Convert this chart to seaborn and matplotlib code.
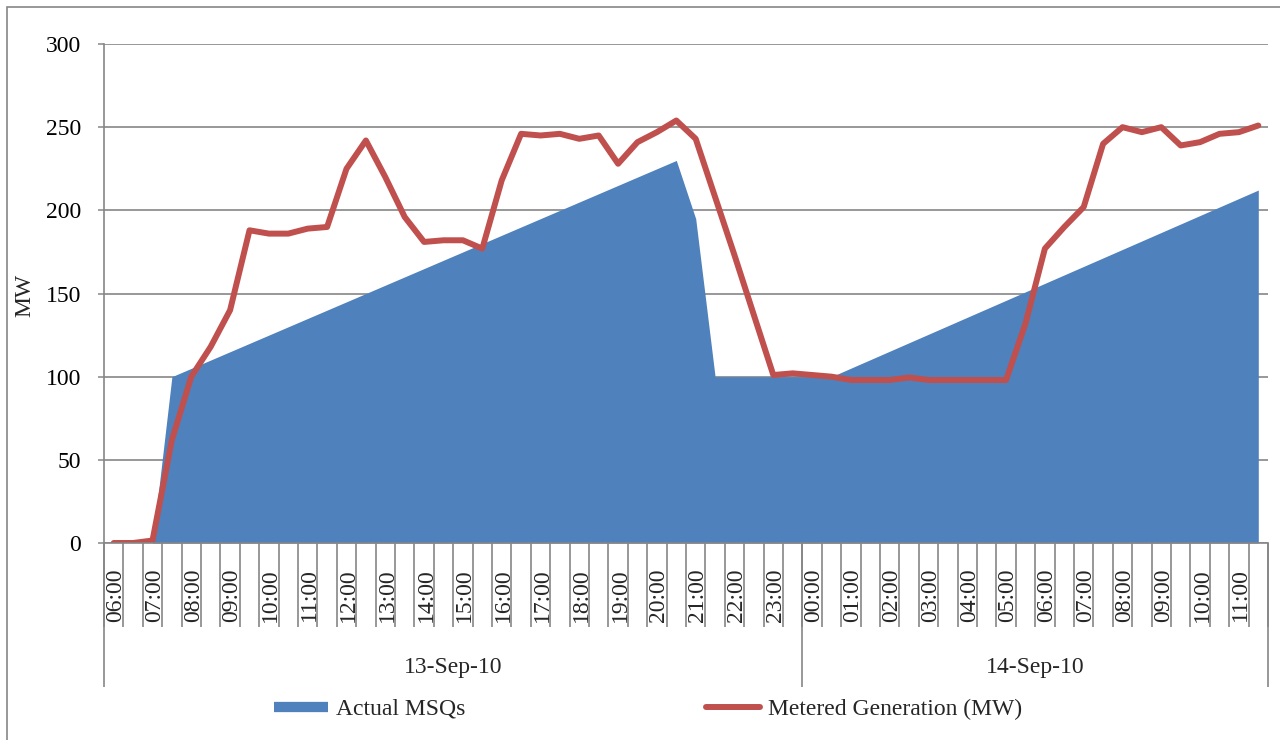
import numpy as np
import pandas as pd
import matplotlib
matplotlib.use("Agg")
import matplotlib.pyplot as plt
from matplotlib.lines import Line2D
from matplotlib.patches import Rectangle
from matplotlib.transforms import ScaledTranslation
import seaborn as sns

# ---------------- data ----------------
times = ["06:00", "06:30", "07:00", "07:30", "08:00", "08:30", "09:00", "09:30",
         "10:00", "10:30", "11:00", "11:30", "12:00", "12:30", "13:00", "13:30",
         "14:00", "14:30", "15:00", "15:30", "16:00", "16:30", "17:00", "17:30",
         "18:00", "18:30", "19:00", "19:30", "20:00", "20:30", "21:00", "21:30",
         "22:00", "22:30", "23:00", "23:30",
         "00:00", "00:30", "01:00", "01:30", "02:00", "02:30", "03:00", "03:30",
         "04:00", "04:30", "05:00", "05:30", "06:00", "06:30", "07:00", "07:30",
         "08:00", "08:30", "09:00", "09:30", "10:00", "10:30", "11:00", "11:30"]
dates = ["13-Sep-10"] * 36 + ["14-Sep-10"] * 24

actual_msqs = [0, 0, 0, 100, 105, 110, 115, 120, 125, 130, 135, 140, 145, 150,
               155, 160, 165, 170, 175, 180, 185, 190, 195, 200, 205, 210, 215,
               220, 225, 230, 195, 100, 100, 100, 100, 100, 100, 100, 105.1, 110.2,
               115.3, 120.4, 125.5, 130.6, 135.7, 140.8, 145.9, 151.0, 156.1, 161.2,
               166.3, 171.4, 176.5, 181.6, 186.7, 191.8, 196.9, 202.0, 207.1, 212.2]

metered_gen = [0, 0, 1.5, 62, 100, 118, 140, 188, 186, 186, 189, 190, 225, 242,
               220, 196, 181, 182, 182, 177, 218, 246, 245, 246, 243, 245, 228,
               241, 247, 254, 243, 208, 173, 137, 101, 102, 101, 100, 98, 98,
               98, 99.5, 98, 98, 98, 98, 98, 132, 177, 190, 202, 240, 250, 247,
               250, 239, 241, 246, 247, 251]

y_ticks = [0, 50, 100, 150, 200, 250, 300]
series_names = ["Actual MSQs", "Metered Generation (MW)"]

df = pd.DataFrame({"idx": np.arange(len(times)), "time": times, "date": dates,
                   "msq": actual_msqs, "gen": metered_gen})

# ---------------- style ----------------
sns.set_style("white")
plt.rcParams["font.family"] = ["Liberation Serif", "DejaVu Serif"]
FS = 17
GRAY = "#868686"
BLUE = "#4F81BD"
RED = "#C0504D"

W, H = 1280, 740
fig = plt.figure(figsize=(12.8, 7.4), dpi=100)
L, R, T, B = 104, 1268, 44, 543
ax = fig.add_axes([L / W, 1 - B / H, (R - L) / W, (B - T) / H])

# area
ax.fill_between(df["idx"], df["msq"], 0, color=BLUE, linewidth=0, zorder=1)
# line
sns.lineplot(data=df, x="idx", y="gen", ax=ax, color=RED, linewidth=4.3,
             solid_joinstyle="round", solid_capstyle="round", zorder=3,
             legend=False)

ax.set_xlim(-0.5, len(times) - 0.5)
ax.set_ylim(0, 300)
ax.set_yticks(y_ticks)
ax.set_yticklabels([str(v) for v in y_ticks], fontsize=FS, color="black")
ax.set_axisbelow(True)
ax.yaxis.grid(True, color=GRAY, linewidth=1.2)
ax.xaxis.grid(False)

for s in ["top", "right"]:
    ax.spines[s].set_visible(False)
for s in ["left", "bottom"]:
    ax.spines[s].set_color(GRAY)
    ax.spines[s].set_linewidth(1.2)
    ax.spines[s].set_zorder(4)

ax.tick_params(axis="y", which="both", left=True, length=4.3, width=1.1,
               color=GRAY, pad=12)

# x tick labels: hourly labels
hour_idx = [i for i, t in enumerate(times) if t.endswith(":00")]
ax.set_xticks(hour_idx)
ax.set_xticklabels([times[i] for i in hour_idx], rotation=90, fontsize=FS,
                   va="top", ha="center")
ax.tick_params(axis="x", length=0, pad=18)
for lab in ax.get_xticklabels():
    lab.set_transform(lab.get_transform() + ScaledTranslation(2 / 100, 0, fig.dpi_scale_trans))

ax.set_xlabel("")
ax.set_ylabel("")

xt = ax.get_xaxis_transform()
row1 = -(627 - B) / (B - T)
row2 = -(687 - B) / (B - T)
bounds = np.arange(len(times) + 1) - 0.5
ax.vlines(bounds, row1, 0, transform=xt, colors=GRAY, linewidth=1.2, clip_on=False)
date_bounds = [-0.5, dates.index("14-Sep-10") - 0.5, len(times) - 0.5]
ax.vlines(date_bounds, row2, 0, transform=xt, colors=GRAY, linewidth=1.2, clip_on=False)

for d in ["13-Sep-10", "14-Sep-10"]:
    ii = [i for i, x in enumerate(dates) if x == d]
    cx = (ii[0] + ii[-1]) / 2
    ax.text(cx, -(667 - B) / (B - T), d, transform=xt, ha="center", va="center",
            fontsize=FS)

fig.text(25 / W, 1 - 295 / H, "MW", rotation=90, ha="center", va="center", fontsize=FS)

# outer border
fig.patches.append(Rectangle((7 / W, -0.5), 2, 1.5 - 7 / H, transform=fig.transFigure,
                             fill=False, edgecolor=GRAY, linewidth=1.2))

handles = [Line2D([0], [0], color=BLUE, linewidth=7.4, solid_capstyle="butt"),
           Line2D([0], [0], color=RED, linewidth=4.3, solid_capstyle="round")]
fig.legend(handles, series_names, loc="center left",
           bbox_to_anchor=(274 / W, 1 - 709 / H), ncol=2, frameon=False,
           fontsize=FS, borderpad=0, borderaxespad=0, handlelength=2.29,
           handletextpad=0.34, columnspacing=10.2)

fig.savefig("out.png", dpi=100)
